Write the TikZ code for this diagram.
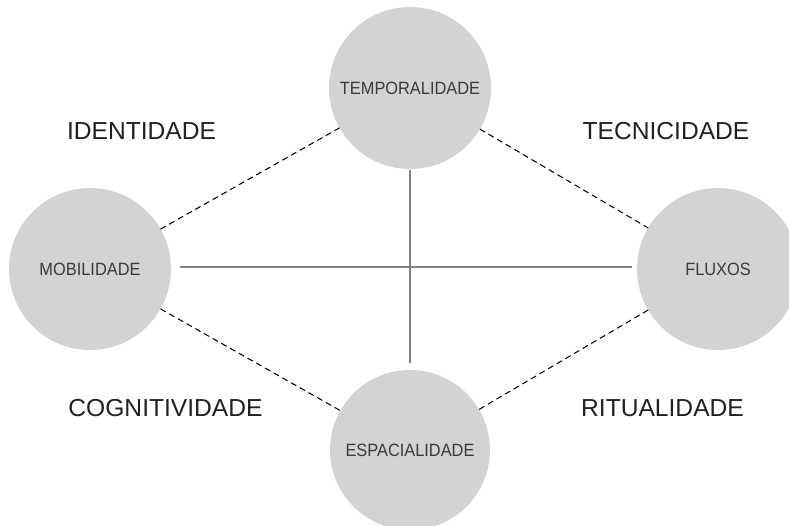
\documentclass[tikz,border=0pt]{standalone}
\usepackage{fontspec}
\setmainfont{Liberation Sans}
\newfontfamily\smallfont[FakeStretch=0.92]{Liberation Sans}
\definecolor{circfill}{HTML}{D1D3D4}
\definecolor{bigtext}{HTML}{231F20}
\definecolor{smalltext}{HTML}{3A3A3A}
\definecolor{axisgrey}{HTML}{808080}
\begin{document}
\begin{tikzpicture}[x=1pt,y=-1pt,
  hub/.style={circle,fill=circfill,draw=none,inner sep=0pt,outer sep=0pt,minimum size=162pt,
    font=\smallfont\fontsize{17.8}{20}\selectfont,text=smalltext},
  biglabel/.style={font=\fontsize{24.6}{28}\selectfont,text=bigtext,inner sep=0pt},
  dashlink/.style={draw=black,line width=1.05pt,dash pattern=on 6pt off 4pt},
  axis/.style={draw=axisgrey,line width=1.3pt}]
\clip (0,0) rectangle (789,525);
\node[hub] (T) at (410,88) {TEMPORALIDADE};
\node[hub] (L) at (90,269) {MOBILIDADE};
\node[hub] (R) at (718,269) {FLUXOS};
\node[hub,minimum size=160pt] (B) at (410,450) {ESPACIALIDADE};
\draw[axis,shorten <=9pt,shorten >=5pt] (L.east |- 0,267) coordinate (le) -- (R.west |- 0,267) coordinate (re);
\draw[axis,shorten <=1pt,shorten >=7pt] (T) -- (B);
\draw[dashlink] (L) -- (T);
\draw[dashlink] (T) -- (R);
\draw[dashlink] (L) -- (B);
\draw[dashlink] (R) -- (B);
\node[biglabel] (id) at (141.5,131) {IDENTIDADE};
\node[biglabel] (tc) at (666,131) {TECNICIDADE};
\node[biglabel] (cg) at (165.5,408) {COGNITIVIDADE};
\node[biglabel] (rt) at (662.5,408) {RITUALIDADE};
\end{tikzpicture}
\end{document}
